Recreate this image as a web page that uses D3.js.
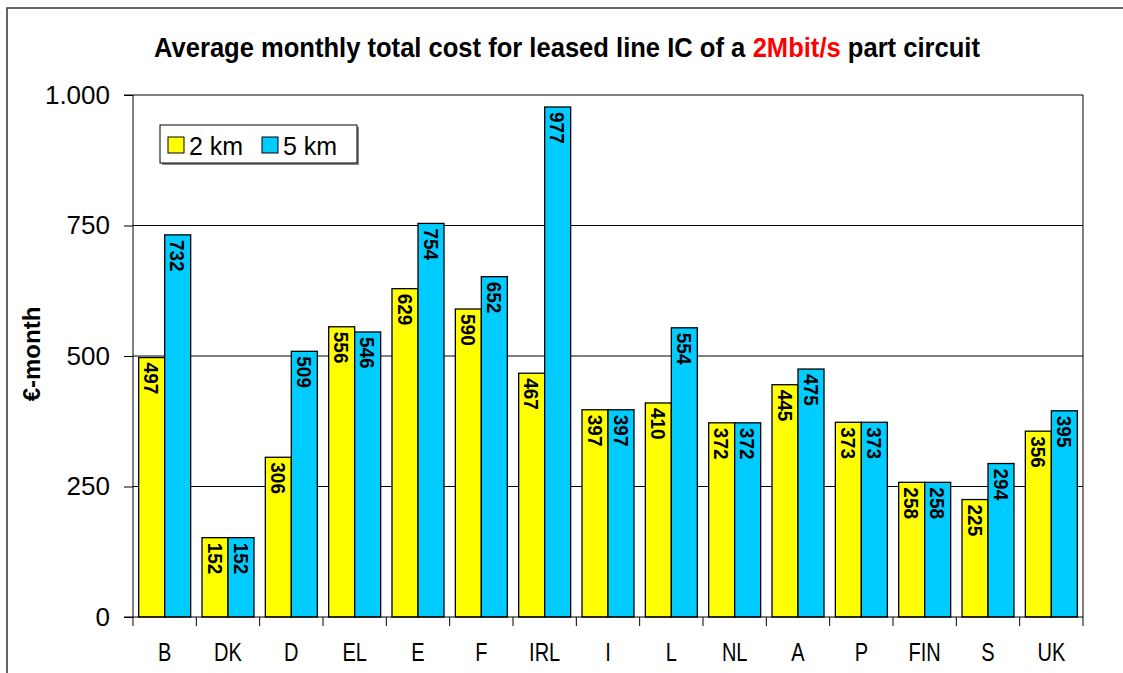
<!DOCTYPE html>
<html>
<head>
<meta charset="utf-8">
<script src="https://cdn.jsdelivr.net/npm/d3@7"></script>
<style>
  html, body { margin: 0; padding: 0; background: #fff; }
  svg { display: block; font-family: "Liberation Sans", Arial, sans-serif; }
</style>
</head>
<body>
<svg id="chart" width="1123" height="673"></svg>
<script>
// Countries along the x axis
const countries = ["B", "DK", "D", "EL", "E", "F", "IRL", "I", "L", "NL", "A", "P", "FIN", "S", "UK"];
// Average monthly cost (€) for a 2 km and a 5 km part circuit
const cost2km = [497, 152, 306, 556, 629, 590, 467, 397, 410, 372, 445, 373, 258, 225, 356];
const cost5km = [732, 152, 509, 546, 754, 652, 977, 397, 554, 372, 475, 373, 258, 294, 395];
const seriesNames = ["2 km", "5 km"];
const yTicks = [0, 250, 500, 750, 1000];
const titleParts = [
  { text: "Average monthly total cost for leased line IC of a ", color: "#000" },
  { text: "2Mbit/s", color: "#FF0000" },
  { text: " part circuit", color: "#000" }
];

const colors = { "2 km": "#FFFF00", "5 km": "#00CCFF" };

const svg = d3.select("#chart");
const plot = { left: 133, right: 1083, top: 95, bottom: 617 };

// Outer frame (top and left edges)
svg.append("path")
  .attr("d", "M7,673 V8 H1123")
  .attr("fill", "none").attr("stroke", "#333").attr("stroke-width", 1.5);

// Title: pieces laid out side by side, then condensed horizontally
const titleWidth = 826, titleCenter = 567;
const tg = svg.append("g");
let cursor = 0;
titleParts.forEach(p => {
  const t = tg.append("text")
    .attr("x", cursor).attr("y", 0)
    .attr("font-weight", "bold").attr("font-size", 27)
    .attr("fill", p.color)
    .style("white-space", "pre")
    .attr("xml:space", "preserve")
    .text(p.text);
  cursor += t.node().getComputedTextLength();
});
const sx = titleWidth / cursor;
tg.attr("transform", `translate(${titleCenter - titleWidth / 2},57) scale(${sx},1)`);

const x = d3.scaleBand().domain(countries).range([plot.left, plot.right]).padding(0);
const xs = d3.scaleBand().domain(seriesNames).range([0, x.bandwidth()]).paddingInner(0).paddingOuter(0.218);
const y = d3.scaleLinear().domain([0, 1000]).range([plot.bottom, plot.top]);

// Horizontal gridlines
svg.append("g").selectAll("line")
  .data(yTicks.filter(d => d > 0))
  .join("line")
  .attr("x1", plot.left).attr("x2", plot.right)
  .attr("y1", d => y(d)).attr("y2", d => y(d))
  .attr("stroke", "#000").attr("stroke-width", 1);

// Right edge of plot area
svg.append("line")
  .attr("x1", plot.right).attr("x2", plot.right)
  .attr("y1", plot.top).attr("y2", plot.bottom)
  .attr("stroke", "#000").attr("stroke-width", 1);

// Bars
const rows = countries.map((c, i) => ({ country: c, values: [
  { series: "2 km", value: cost2km[i] },
  { series: "5 km", value: cost5km[i] }
]}));

const groups = svg.append("g").selectAll("g")
  .data(rows).join("g")
  .attr("transform", d => `translate(${x(d.country)},0)`);

groups.selectAll("rect")
  .data(d => d.values).join("rect")
  .attr("x", d => xs(d.series))
  .attr("y", d => y(d.value))
  .attr("width", xs.bandwidth())
  .attr("height", d => y(0) - y(d.value))
  .attr("fill", d => colors[d.series])
  .attr("stroke", "#000").attr("stroke-width", 1.3);

// Value labels, rotated inside the top of each bar
groups.selectAll("text")
  .data(d => d.values).join("text")
  .attr("transform", d => `translate(${xs(d.series) + xs.bandwidth() / 2},${y(d.value) + 5}) rotate(90) scale(0.95,1.05)`)
  .attr("dominant-baseline", "central")
  .attr("text-anchor", "start")
  .attr("font-weight", "bold").attr("font-size", 20)
  .text(d => d.value);

// Y axis
const yAxis = d3.axisLeft(y).tickValues(yTicks).tickSize(9).tickPadding(14)
  .tickFormat(d => d3.format(",")(d).replace(",", "."));
const gy = svg.append("g").attr("transform", `translate(${plot.left},0)`).call(yAxis);
gy.select(".domain").attr("d", `M${-9},${plot.bottom}H0V${plot.top}H-9`).attr("stroke", "#000");
gy.selectAll(".tick line").attr("stroke", "#000");
gy.selectAll(".tick text").attr("font-size", 26).attr("font-family", "Liberation Sans, Arial, sans-serif").attr("fill", "#000");

// X axis: ticks on category boundaries
svg.append("line")
  .attr("x1", plot.left).attr("x2", plot.right)
  .attr("y1", plot.bottom).attr("y2", plot.bottom)
  .attr("stroke", "#000");
const boundaries = countries.map(c => x(c)).concat([plot.right]);
svg.append("g").selectAll("line")
  .data(boundaries).join("line")
  .attr("x1", d => d).attr("x2", d => d)
  .attr("y1", plot.bottom).attr("y2", plot.bottom + 9)
  .attr("stroke", "#000");
svg.append("g").selectAll("text")
  .data(countries).join("text")
  .attr("transform", d => `translate(${x(d) + x.bandwidth() / 2},661) scale(0.8,1)`)
  .attr("text-anchor", "middle")
  .attr("font-size", 25)
  .text(d => d);

// Y axis title
svg.append("text")
  .attr("transform", "translate(40,354) rotate(-90)")
  .attr("text-anchor", "middle")
  .attr("font-weight", "bold").attr("font-size", 24)
  .text("€-month");

// Legend
const lg = svg.append("g").attr("transform", "translate(160,125)");
lg.append("rect").attr("x", 2).attr("y", 2).attr("width", 197).attr("height", 38).attr("fill", "#888");
lg.append("rect").attr("width", 197).attr("height", 38).attr("fill", "#fff").attr("stroke", "#000");
const legendX = [8, 102];
seriesNames.forEach((s, i) => {
  lg.append("rect").attr("x", legendX[i]).attr("y", 12).attr("width", 16).attr("height", 16)
    .attr("fill", colors[s]).attr("stroke", "#000");
  lg.append("text").attr("x", legendX[i] + 21).attr("y", 30)
    .attr("font-size", 25).text(s);
});
</script>
</body>
</html>
